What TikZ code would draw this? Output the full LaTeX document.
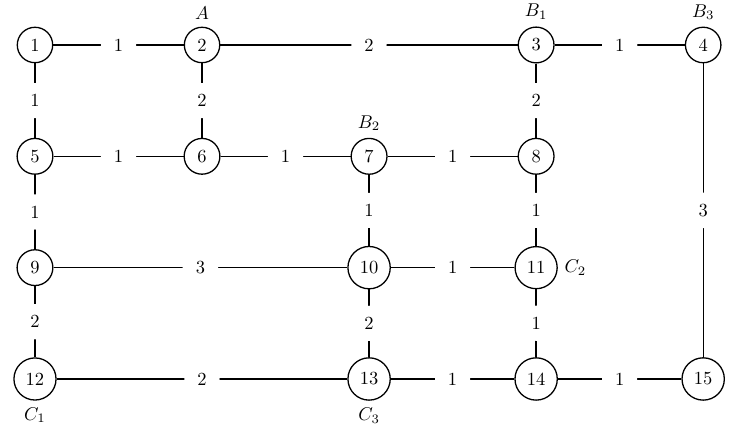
\documentclass[tikz,border=0pt]{standalone}
\usepackage{tikz}
\usetikzlibrary{backgrounds}
\usepackage{amsmath}
\begin{document}
\begin{tikzpicture}[x=3.175cm,y=2.116cm,line width=0.7pt,
  vertex/.style={circle,draw,inner sep=3.85pt},
  weight/.style={circle,fill=white,inner sep=3.8pt}]
\useasboundingbox (-0.665cm,0.855cm) rectangle (13.40cm,-7.43cm);
% vertices
\node[vertex] (n1) at (0,0) {1};
\node[vertex,label=above:$A$] (n2) at (1,0) {2};
\node[vertex,label=above:$B_1$] (n3) at (3,0) {3};
\node[vertex,label=above:$B_3$] (n4) at (4,0) {4};
\node[vertex] (n5) at (0,-1) {5};
\node[vertex] (n6) at (1,-1) {6};
\node[vertex,label=above:$B_2$] (n7) at (2,-1) {7};
\node[vertex] (n8) at (3,-1) {8};
\node[vertex] (n9) at (0,-2) {9};
\node[vertex] (n10) at (2,-2) {10};
\node[vertex,label=right:$C_2$] (n11) at (3,-2) {11};
\node[vertex,label=below:$C_1$] (n12) at (0,-3) {12};
\node[vertex,label=below:$C_3$] (n13) at (2,-3) {13};
\node[vertex] (n14) at (3,-3) {14};
\node[vertex] (n15) at (4,-3) {15};
% edges
\draw (n1) -- node[weight] {1} (n2);
\draw (n2) -- node[weight] {2} (n3);
\draw (n3) -- node[weight] {1} (n4);
\draw (n1) -- node[weight] {1} (n5);
\draw (n2) -- node[weight] {2} (n6);
\draw (n3) -- node[weight] {2} (n8);
\draw (n5) -- node[weight] {1} (n6);
\draw (n6) -- node[weight] {1} (n7);
\draw (n7) -- node[weight] {1} (n8);
\draw (n5) -- node[weight] {1} (n9);
\draw (n7) -- node[weight] {1} (n10);
\draw (n8) -- node[weight] {1} (n11);
\draw (n4) -- node[weight] {3} (n15);
\draw (n9) -- node[weight] {3} (n10);
\draw (n10) -- node[weight] {1} (n11);
\draw (n9) -- node[weight] {2} (n12);
\draw (n10) -- node[weight] {2} (n13);
\draw (n11) -- node[weight] {1} (n14);
\draw (n12) -- node[weight] {2} (n13);
\draw (n13) -- node[weight] {1} (n14);
\draw (n14) -- node[weight] {1} (n15);
\end{tikzpicture}
\end{document}
